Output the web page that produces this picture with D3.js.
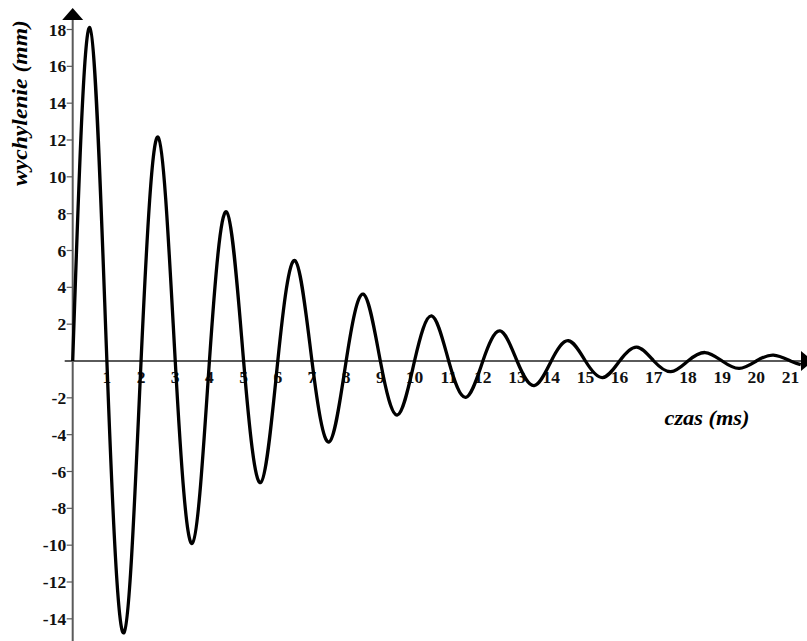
<!DOCTYPE html>
<html>
<head>
<meta charset="utf-8">
<script src="https://cdn.jsdelivr.net/npm/d3@7"></script>
<style>
  body { margin: 0; background: #fff; }
  svg { display: block; }
  text { font-family: "Liberation Serif", "Times New Roman", Times, serif; font-weight: bold; }
</style>
</head>
<body>
<div id="chart"></div>
<script>
// zero crossings (ms) and the extremum that follows each one
var crossTimes = [0, 1, 2, 3, 4, 5, 6, 7, 8, 9, 10, 11, 12, 13, 14, 15, 16, 17, 18, 19, 20, 21];
var peakTimes = [0.5, 1.5, 2.5, 3.5, 4.5, 5.5, 6.5, 7.5, 8.5, 9.5, 10.5, 11.5, 12.5, 13.5, 14.5, 15.5, 16.5, 17.5, 18.5, 19.5, 20.5];
var peakValues = [18.1, -14.75, 12.15, -9.9, 8.1, -6.6, 5.45, -4.4, 3.63, -2.93, 2.45, -1.97, 1.63, -1.34, 1.1, -0.9, 0.75, -0.58, 0.46, -0.4, 0.32];
var tailPoint = [21.3, -0.2];

var xTicks = [1, 2, 3, 4, 5, 6, 7, 8, 9, 10, 11, 12, 13, 14, 15, 16, 17, 18, 19, 20, 21];
var yTicks = [-14, -12, -10, -8, -6, -4, -2, 2, 4, 6, 8, 10, 12, 14, 16, 18];

var xTitle = "czas (ms)";
var yTitle = "wychylenie (mm)";

const width = 807;
const height = 641;

const x = d3.scaleLinear().domain([0, 21]).range([72.7, 790.5]);
const y = d3.scaleLinear().domain([0, 18]).range([361, 29.5]);

const svg = d3
  .select("#chart")
  .append("svg")
  .attr("width", width)
  .attr("height", height);

const axisColor = "#5a5a5a";

/* Axes */
svg
  .append("line")
  .attr("x1", x(0))
  .attr("x2", x(0))
  .attr("y1", 19)
  .attr("y2", height)
  .attr("stroke", axisColor)
  .attr("stroke-width", 2);

svg
  .append("line")
  .attr("x1", x(0) - 8)
  .attr("x2", 802)
  .attr("y1", y(0))
  .attr("y2", y(0))
  .attr("stroke", axisColor)
  .attr("stroke-width", 2);

// arrow heads
svg
  .append("path")
  .attr("d", `M${x(0) - 10.5},20 L${x(0)},8 L${x(0) + 10.5},20 Z`)
  .attr("fill", "#000");

svg
  .append("path")
  .attr("d", `M801,${y(0) - 10} L813,${y(0)} L801,${y(0) + 10} Z`)
  .attr("fill", "#000");

/* Y ticks */
const yAxis = svg.append("g");
yAxis
  .selectAll("line")
  .data(yTicks)
  .join("line")
  .attr("x1", x(0) - 6)
  .attr("x2", x(0))
  .attr("y1", (d) => y(d))
  .attr("y2", (d) => y(d))
  .attr("stroke", axisColor)
  .attr("stroke-width", 1.2);

yAxis
  .selectAll("text")
  .data(yTicks)
  .join("text")
  .attr("x", x(0) - 6.5)
  .attr("y", (d) => y(d) + 6)
  .attr("text-anchor", "end")
  .style("font-size", "17.5px")
  .attr("fill", "#111")
  .text((d) => d);

/* X tick labels */
svg
  .append("g")
  .selectAll("text")
  .data(xTicks)
  .join("text")
  .attr("x", (d) => x(d))
  .attr("y", y(0) + 22)
  .attr("text-anchor", "middle")
  .style("font-size", "17.5px")
  .attr("fill", "#111")
  .text((d) => d);

/* Titles */
svg
  .append("text")
  .attr("transform", `translate(27,103) rotate(-90)`)
  .attr("text-anchor", "middle")
  .style("font-style", "italic")
  .style("font-size", "20px")
  .attr("textLength", 166)
  .attr("lengthAdjust", "spacingAndGlyphs")
  .text(yTitle);

svg
  .append("text")
  .attr("x", 707)
  .attr("y", 425)
  .attr("text-anchor", "middle")
  .style("font-style", "italic")
  .style("font-size", "21px")
  .attr("textLength", 85)
  .attr("lengthAdjust", "spacingAndGlyphs")
  .text(xTitle);

/* Curve */
var points = [];
crossTimes.forEach((t, i) => {
  points.push([t, 0]);
  if (i < peakTimes.length) points.push([peakTimes[i], peakValues[i]]);
});
points.push(tailPoint);

const line = d3
  .line()
  .x((d) => x(d[0]))
  .y((d) => y(d[1]))
  .curve(d3.curveNatural);

svg
  .append("path")
  .datum(points)
  .attr("d", line)
  .attr("fill", "none")
  .attr("stroke", "#000")
  .attr("stroke-width", 3.3)
  .attr("stroke-linejoin", "round");
</script>
</body>
</html>
